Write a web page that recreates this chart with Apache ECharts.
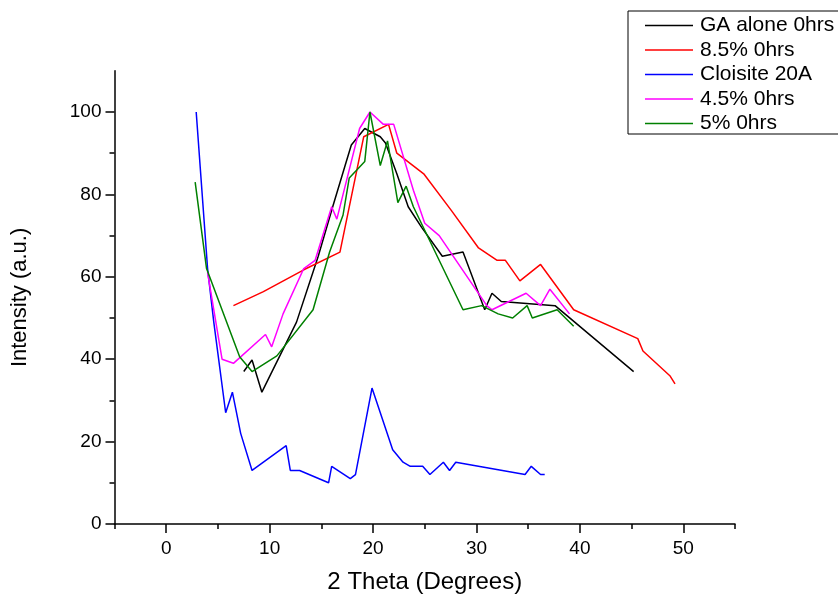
<!DOCTYPE html>
<html>
<head>
<meta charset="utf-8">
<script src="https://cdn.jsdelivr.net/npm/echarts@6/dist/echarts.min.js"></script>
<style>
html,body{margin:0;padding:0;background:#fff;}
#chart{width:838px;height:594px;}
</style>
</head>
<body>
<div id="chart"></div>
<script>
// ---- data ----
const seriesNames = ['GA alone 0hrs', '8.5% 0hrs', 'Cloisite 20A', '4.5% 0hrs', '5% 0hrs'];

const gaX = [7.5, 8.3, 9.25, 12.6, 14.7, 16.1, 17.3, 17.9, 19.2, 20.7, 21.2, 22.3, 23.4, 24.7, 26.7, 28.7, 30.8, 31.5, 32.4, 37.6, 45.2];
const gaY = [37, 39.8, 32, 49, 65, 77, 87, 92, 96, 94, 92.5, 85, 77, 72, 65, 66, 52, 56, 54, 53, 37];

const redX = [6.5, 9.4, 13.3, 16.8, 19.1, 21.5, 22.3, 24.9, 27.6, 30.2, 32.0, 32.8, 34.2, 36.2, 39.4, 45.6, 46.1, 48.7, 49.2];
const redY = [53, 56.4, 61.7, 66, 94, 97, 90, 85, 76, 67, 64, 64, 59, 63, 52, 45, 42, 36, 34];

const blueX = [2.9, 4.0, 4.6, 5.75, 6.4, 7.2, 8.3, 11.6, 12.0, 12.9, 15.7, 16.0, 17.8, 18.3, 19.9, 21.9, 22.9, 23.6, 24.8, 25.5, 26.8, 27.4, 28.0, 34.7, 35.3, 36.2, 36.6];
const blueY = [100, 62, 49, 27, 32, 22, 13, 19, 13, 13, 10, 14, 11, 12, 33, 18, 15, 14, 14, 12, 15, 13, 15, 12, 14, 12, 12];

const magX = [4.0, 5.4, 6.5, 9.6, 10.2, 11.3, 13.3, 14.4, 16.0, 16.5, 17.8, 18.7, 19.7, 21.0, 22.0, 23.9, 25.0, 26.4, 31.0, 31.5, 34.8, 36.2, 37.1, 39.0];
const magY = [61, 40, 39, 46, 43, 51, 62, 64, 77, 74, 87, 96, 100, 97, 97, 81, 73, 70, 53, 52, 56, 53, 57, 51];

const greenX = [2.8, 3.9, 7.1, 8.3, 10.7, 14.2, 15.8, 17.1, 17.7, 19.2, 19.7, 20.7, 21.4, 22.4, 23.2, 23.9, 28.7, 30.5, 32.1, 33.5, 34.9, 35.4, 37.8, 39.4];
const greenY = [83, 62, 40.6, 37, 40.8, 52, 66, 75, 84, 88, 100, 87, 93, 78, 82, 77, 52, 53, 51, 50, 53, 50, 52, 48];

const xMajorTicks = [0, 10, 20, 30, 40, 50];
const xMinorTicks = [-5, 5, 15, 25, 35, 45, 55];
const yMajorTicks = [0, 20, 40, 60, 80, 100];
const yMinorTicks = [10, 30, 50, 70, 90];

const colors = ['#000000', '#ff0000', '#0000ff', '#ff00ff', '#008000'];

function pairs(xs, ys) { return xs.map((x, i) => [x, ys[i]]); }
const allData = [pairs(gaX, gaY), pairs(redX, redY), pairs(blueX, blueY), pairs(magX, magY), pairs(greenX, greenY)];

const FONT = '"Liberation Sans", Arial, sans-serif';

const chart = echarts.init(document.getElementById('chart'), null, {renderer: 'canvas'});
chart.setOption({
  animation: false,
  backgroundColor: '#ffffff',
  grid: {left: 114.5, right: 103, top: 70.8, bottom: 70, containLabel: false, outerBoundsMode: 'none'},
  legend: {
    orient: 'vertical',
    left: 628, top: 11,
    padding: [4, 12, 0, 17],
    borderColor: '#000', borderWidth: 1,
    icon: 'rect',
    itemWidth: 48, itemHeight: 1.5, itemGap: 3.5,
    textStyle: {fontFamily: FONT, fontSize: 21, color: '#000', lineHeight: 20, padding: [0, 0, 0, 2]},
    data: seriesNames
  },
  xAxis: [{
    type: 'value', min: -5, max: 55, interval: 5,
    name: '2 Theta (Degrees)', nameLocation: 'middle', nameGap: 46,
    nameTextStyle: {fontFamily: FONT, fontSize: 24, color: '#000'},
    axisLine: {show: true, onZero: false, lineStyle: {color: '#000', width: 1.5}},
    axisTick: {show: true, length: 9, lineStyle: {color: '#000', width: 1.5}, customValues: xMajorTicks},
    axisLabel: {fontFamily: FONT, fontSize: 19, color: '#000', margin: 15, customValues: xMajorTicks},
    splitLine: {show: false}
  }, {
    type: 'value', min: -5, max: 55, interval: 5, position: 'bottom',
    axisLine: {show: false, onZero: false},
    axisTick: {show: true, length: 5, lineStyle: {color: '#000', width: 1.5}, customValues: xMinorTicks},
    axisLabel: {show: false},
    splitLine: {show: false}
  }],
  yAxis: [{
    type: 'value', min: 0, max: 110, interval: 10,
    name: 'Intensity (a.u.)', nameLocation: 'middle', nameGap: 84, nameRotate: 90,
    nameTextStyle: {fontFamily: FONT, fontSize: 22, color: '#000'},
    axisLine: {show: true, onZero: false, lineStyle: {color: '#000', width: 1.5}},
    axisTick: {show: true, length: 9, lineStyle: {color: '#000', width: 1.5}, customValues: yMajorTicks},
    axisLabel: {fontFamily: FONT, fontSize: 19, color: '#000', margin: 13, customValues: yMajorTicks},
    splitLine: {show: false}
  }, {
    type: 'value', min: 0, max: 110, interval: 10, position: 'left',
    axisLine: {show: false, onZero: false},
    axisTick: {show: true, length: 5, lineStyle: {color: '#000', width: 1.5}, customValues: yMinorTicks},
    axisLabel: {show: false},
    splitLine: {show: false}
  }],
  series: seriesNames.map((n, i) => ({
    name: n, type: 'line', data: allData[i],
    xAxisIndex: 0, yAxisIndex: 0,
    showSymbol: false, symbol: 'none',
    color: colors[i],
    lineStyle: {color: colors[i], width: 1.5},
    z: 2 + i
  }))
});
</script>
</body>
</html>
